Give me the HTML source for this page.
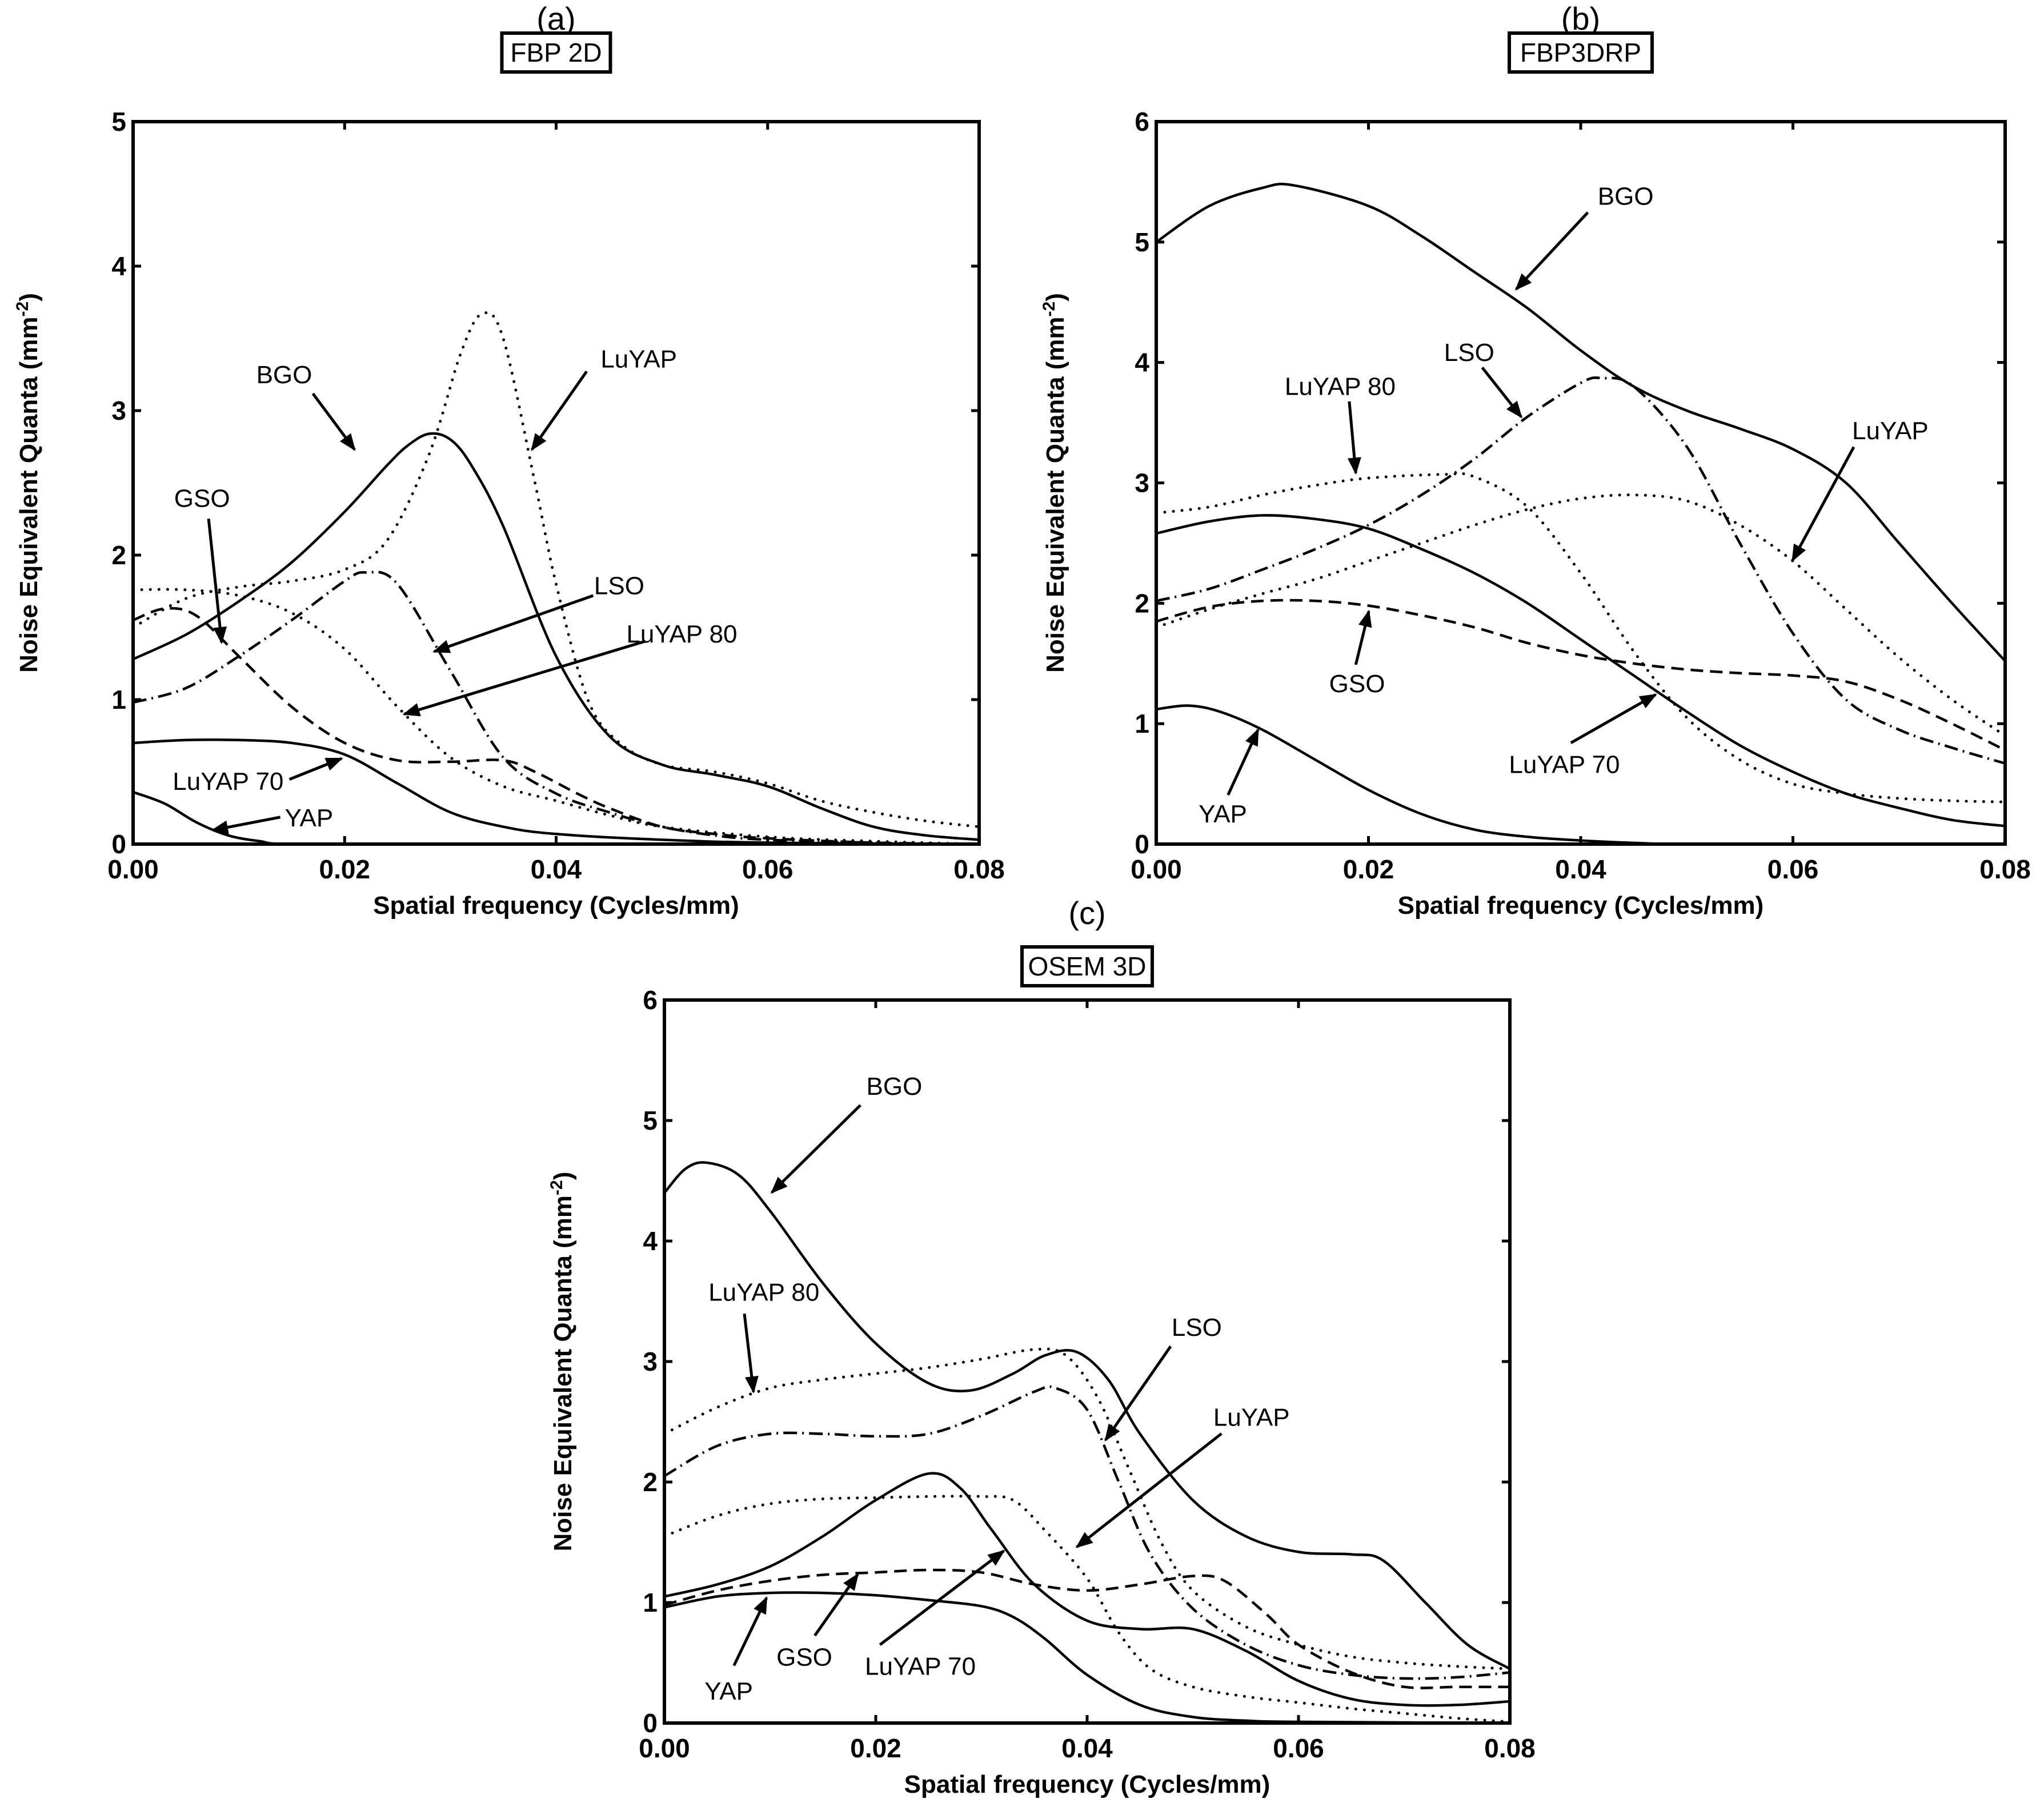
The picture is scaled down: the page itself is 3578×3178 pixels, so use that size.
<!DOCTYPE html>
<html><head><meta charset="utf-8"><style>
html,body{margin:0;padding:0;background:#fff;}
svg{display:block;}
text{font-family:"Liberation Sans",Arial,sans-serif;fill:#000;}
</style></head><body>
<svg id="fig" width="3578" height="3178" viewBox="0 0 3578 3178" xmlns="http://www.w3.org/2000/svg">
<defs>
<marker id="ah" viewBox="0 0 10 10" refX="9" refY="5" markerWidth="7" markerHeight="6" markerUnits="strokeWidth" orient="auto"><path d="M0,1 L10,5 L0,9 z" fill="#000"/></marker>
</defs>
</svg>
<script>
// ---- data (x in cycles/mm, y in mm^-2) ----
const xTicks = [0, 0.02, 0.04, 0.06, 0.08];
const xTickLabels = ["0.00", "0.02", "0.04", "0.06", "0.08"];
const yTicksA = [0, 1, 2, 3, 4, 5];
const yTicksBC = [0, 1, 2, 3, 4, 5, 6];

// Panel (a) FBP 2D
const aBGOx = [0,.005,.01,.015,.02,.024,.026,.028,.030,.032,.035,.04,.045,.05,.055,.06,.065,.07,.075,.08];
const aBGOy = [1.28,1.45,1.68,1.95,2.3,2.62,2.76,2.84,2.8,2.62,2.2,1.3,0.75,0.55,0.48,0.4,0.25,0.12,0.06,0.03];
const aLuYAPx = [0,.005,.01,.015,.02,.024,.028,.031,.033,.035,.038,.04,.043,.046,.05,.055,.06,.065,.07,.075,.08];
const aLuYAPy = [1.5,1.7,1.78,1.82,1.9,2.1,2.7,3.4,3.67,3.5,2.5,1.8,1.0,0.7,0.55,0.5,0.42,0.3,0.22,0.16,0.12];
const aLuYAP80x = [0,.005,.01,.015,.02,.025,.03,.035,.04,.045,.05,.06,.07,.08];
const aLuYAP80y = [1.76,1.76,1.72,1.6,1.35,0.95,0.6,0.4,0.3,0.2,0.12,0.05,0.02,0];
const aLSOx = [0,.005,.01,.015,.02,.022,.025,.03,.035,.04,.045,.05,.055,.06,.07,.08];
const aLSOy = [0.98,1.08,1.3,1.55,1.82,1.88,1.8,1.2,0.6,0.35,0.22,0.12,0.06,0.03,0.01,0];
const aGSOx = [0,.003,.006,.01,.015,.02,.025,.03,.035,.038,.042,.045,.05,.055,.06,.07,.08];
const aGSOy = [1.55,1.63,1.58,1.3,0.95,0.7,0.58,0.57,0.58,0.5,0.35,0.25,0.12,0.07,0.04,0.01,0];
const aLuYAP70x = [0,.005,.01,.015,.02,.025,.03,.035,.04,.05,.06,.08];
const aLuYAP70y = [0.7,0.72,0.72,0.7,0.62,0.42,0.22,0.12,0.07,0.03,0.01,0];
const aYAPx = [0,.003,.006,.009,.012,.015,.03,.08];
const aYAPy = [0.36,0.28,0.15,0.06,0.02,0,0,0];

// Panel (b) FBP3DRP
const bBGOx = [0,.005,.01,.013,.02,.025,.03,.035,.04,.045,.05,.055,.06,.065,.07,.075,.08];
const bBGOy = [5.0,5.3,5.45,5.47,5.3,5.05,4.75,4.45,4.1,3.8,3.6,3.45,3.28,3.0,2.5,2.0,1.52];
const bLSOx = [0,.005,.01,.015,.02,.025,.03,.035,.04,.042,.045,.05,.055,.06,.065,.07,.075,.08];
const bLSOy = [2.02,2.12,2.28,2.45,2.65,2.9,3.2,3.55,3.83,3.87,3.8,3.3,2.5,1.75,1.2,0.95,0.8,0.67];
const bLuYAP80x = [0,.005,.01,.015,.02,.027,.03,.035,.04,.045,.05,.055,.06,.065,.07,.075,.08];
const bLuYAP80y = [2.75,2.8,2.9,2.98,3.04,3.07,3.05,2.8,2.25,1.6,1.05,0.7,0.5,0.42,0.38,0.36,0.35];
const bLuYAPx = [0,.005,.01,.015,.02,.025,.03,.035,.04,.045,.05,.055,.06,.065,.07,.075,.08];
const bLuYAPy = [1.8,1.95,2.08,2.2,2.35,2.5,2.65,2.78,2.87,2.9,2.85,2.65,2.35,1.95,1.55,1.2,0.9];
const bGSOx = [0,.005,.01,.015,.02,.025,.03,.035,.04,.045,.05,.055,.06,.065,.07,.075,.08];
const bGSOy = [1.85,1.97,2.02,2.02,1.98,1.9,1.8,1.67,1.57,1.5,1.45,1.42,1.4,1.35,1.2,1.0,0.78];
const bLuYAP70x = [0,.005,.01,.015,.02,.025,.03,.035,.04,.045,.05,.055,.06,.065,.07,.075,.08];
const bLuYAP70y = [2.58,2.68,2.73,2.7,2.62,2.45,2.25,2.0,1.7,1.4,1.1,0.82,0.6,0.42,0.3,0.2,0.15];
const bYAPx = [0,.003,.006,.01,.015,.02,.025,.03,.035,.04,.045,.05,.065,.08];
const bYAPy = [1.12,1.15,1.1,0.95,0.7,0.45,0.25,0.12,0.06,0.03,0.01,0,0,0];

// Panel (c) OSEM 3D
const cBGOx = [0,.002,.004,.007,.01,.015,.02,.025,.029,.033,.036,.039,.042,.045,.05,.055,.06,.065,.068,.072,.076,.08];
const cBGOy = [4.4,4.6,4.65,4.55,4.25,3.65,3.15,2.82,2.76,2.9,3.05,3.08,2.85,2.4,1.85,1.55,1.42,1.4,1.35,1.0,0.65,0.45];
const cLuYAP80x = [0,.005,.01,.015,.02,.025,.03,.035,.038,.041,.044,.047,.05,.055,.06,.065,.07,.075,.08];
const cLuYAP80y = [2.4,2.62,2.78,2.85,2.9,2.95,3.02,3.1,3.05,2.7,2.1,1.5,1.1,0.8,0.65,0.55,0.5,0.47,0.45];
const cLSOx = [0,.005,.01,.015,.02,.025,.03,.035,.037,.04,.043,.046,.05,.055,.06,.065,.07,.075,.08];
const cLSOy = [2.05,2.3,2.4,2.4,2.38,2.4,2.55,2.75,2.78,2.6,2.0,1.4,0.95,0.65,0.48,0.4,0.37,0.38,0.42];
const cGSOx = [0,.005,.01,.015,.02,.025,.03,.035,.04,.045,.05,.053,.057,.06,.065,.07,.075,.08];
const cGSOy = [0.98,1.1,1.18,1.23,1.25,1.27,1.25,1.15,1.1,1.15,1.22,1.18,0.9,0.65,0.42,0.3,0.3,0.3];
const cLuYAPx = [0,.005,.01,.015,.02,.025,.03,.033,.036,.04,.043,.046,.05,.055,.06,.065,.07,.075,.08];
const cLuYAPy = [1.55,1.72,1.82,1.86,1.87,1.88,1.88,1.85,1.6,1.2,0.75,0.45,0.3,0.22,0.17,0.12,0.08,0.04,0.01];
const cLuYAP70x = [0,.005,.01,.015,.02,.025,.028,.031,.035,.04,.045,.05,.055,.06,.065,.07,.075,.08];
const cLuYAP70y = [1.05,1.15,1.3,1.55,1.85,2.07,1.95,1.6,1.15,0.85,0.78,0.78,0.6,0.35,0.2,0.15,0.15,0.18];
const cYAPx = [0,.005,.01,.015,.02,.025,.03,.033,.036,.04,.045,.05,.055,.06,.08];
const cYAPy = [0.96,1.05,1.08,1.08,1.06,1.02,0.97,0.88,0.7,0.4,0.15,0.05,0.02,0.01,0];

const NS = "http://www.w3.org/2000/svg";
const svg = document.getElementById("fig");
const STYLES = {
  solid: "",
  dotted: "0.1 15",
  dashdot: "24 9 3 9",
  dashed: "22 12"
};

function mk(tag, attrs, parent) {
  const e = document.createElementNS(NS, tag);
  for (const k in attrs) e.setAttribute(k, attrs[k]);
  (parent || svg).appendChild(e);
  return e;
}

function smoothPath(pts) {
  let d = "M" + pts[0][0].toFixed(1) + "," + pts[0][1].toFixed(1);
  for (let i = 0; i < pts.length - 1; i++) {
    const p0 = pts[Math.max(0, i - 1)], p1 = pts[i], p2 = pts[i + 1], p3 = pts[Math.min(pts.length - 1, i + 2)];
    const t = 6;
    const c1 = [p1[0] + (p2[0] - p0[0]) / t, p1[1] + (p2[1] - p0[1]) / t];
    const c2 = [p2[0] - (p3[0] - p1[0]) / t, p2[1] - (p3[1] - p1[1]) / t];
    d += "C" + c1[0].toFixed(1) + "," + c1[1].toFixed(1) + " " + c2[0].toFixed(1) + "," + c2[1].toFixed(1) + " " + p2[0].toFixed(1) + "," + p2[1].toFixed(1);
  }
  return d;
}

function panel(cfg) {
  const g = mk("g", {});
  
  
  const L = cfg.L, R = cfg.R, T = cfg.T, B = cfg.B;
  const xs = v => L + v / 0.08 * (R - L);
  const ys = v => B - v / cfg.ymax * (B - T);
  const cx = (L + R) / 2;

  const lab = mk("text", {x: cx, y: cfg.letterY, "text-anchor": "middle", "font-size": 56}, g);
  lab.textContent = cfg.letter;
  
  

  const tb = mk("rect", {x: cx - cfg.boxW / 2, y: cfg.boxY, width: cfg.boxW, height: 68, fill: "#fff", stroke: "#000", "stroke-width": 6}, g);
  
  
  const tt = mk("text", {x: cx, y: cfg.boxY + 50, "text-anchor": "middle", "font-size": 46}, g);
  tt.textContent = cfg.title;
  
  

  cfg.series.forEach(s => {
    const pts = s.x.map((xv, i) => [xs(xv), ys(s.y[i])]);
    const attrs = {d: smoothPath(pts), fill: "none", stroke: "#000", "stroke-width": s.style === "dotted" ? 5 : 4.5, "stroke-linejoin": "round"};
    if (STYLES[s.style]) { attrs["stroke-dasharray"] = STYLES[s.style]; }
    attrs["stroke-linecap"] = s.style === "dotted" ? "round" : "butt";
    const p = mk("path", attrs, g);
    
    
  });

  const fr = mk("rect", {x: L, y: T, width: R - L, height: B - T, fill: "none", stroke: "#000", "stroke-width": 6}, g);
  
  

  xTicks.forEach((v, i) => {
    const x = xs(v);
    const t1 = mk("line", {x1: x, y1: B, x2: x, y2: B - 14, stroke: "#000", "stroke-width": 5}, g);
    
    
    const t2 = mk("line", {x1: x, y1: T, x2: x, y2: T + 14, stroke: "#000", "stroke-width": 5}, g);
    
    
    const tl = mk("text", {x: x, y: B + 60, "text-anchor": "middle", "font-size": 46, "font-weight": "bold"}, g);
    tl.textContent = xTickLabels[i];
    
    
  });
  cfg.yticks.forEach(v => {
    const y = ys(v);
    const t1 = mk("line", {x1: L, y1: y, x2: L + 14, y2: y, stroke: "#000", "stroke-width": 5}, g);
    
    
    const t2 = mk("line", {x1: R, y1: y, x2: R - 14, y2: y, stroke: "#000", "stroke-width": 5}, g);
    
    
    const tl = mk("text", {x: L - 12, y: y + 16, "text-anchor": "end", "font-size": 46, "font-weight": "bold"}, g);
    tl.textContent = String(v);
    
    
  });

  const xt = mk("text", {x: cx, y: B + 122, "text-anchor": "middle", "font-size": 44, "font-weight": "bold"}, g);
  xt.textContent = "Spatial frequency (Cycles/mm)";
  
  
  const yc = (T + B) / 2;
  const yt = mk("text", {x: cfg.yTitleX, y: yc, "text-anchor": "middle", "font-size": 44, "font-weight": "bold", transform: "rotate(-90 " + cfg.yTitleX + " " + yc + ")"}, g);
  yt.innerHTML = 'Noise Equivalent Quanta (mm<tspan dy="-16" font-size="30">-2</tspan><tspan dy="16">)</tspan>';
  
  

  const k = 2.282;
  cfg.ann.forEach(a => {
    const t = mk("text", {x: a[1] * k, y: a[2] * k + 16, "text-anchor": "middle", "font-size": 44}, g);
    t.textContent = a[0];
    
    
    const ln = mk("line", {x1: a[3] * k, y1: a[4] * k, x2: a[5] * k, y2: a[6] * k, stroke: "#000", "stroke-width": 5, "marker-end": "url(#ah)"}, g);
    
    
  });
}

panel({
  name: "panel-a-fbp2d", letter: "(a)", title: "FBP 2D", letterY: 52, boxY: 58, boxW: 190,
  L: 233, R: 1714, T: 213, B: 1478, ymax: 5, yticks: yTicksA, yTitleX: 65,
  series: [
    {id: "series-bgo", x: aBGOx, y: aBGOy, style: "solid"},
    {id: "series-luyap", x: aLuYAPx, y: aLuYAPy, style: "dotted"},
    {id: "series-luyap80", x: aLuYAP80x, y: aLuYAP80y, style: "dotted"},
    {id: "series-lso", x: aLSOx, y: aLSOy, style: "dashdot"},
    {id: "series-gso", x: aGSOx, y: aGSOy, style: "dashed"},
    {id: "series-luyap70", x: aLuYAP70x, y: aLuYAP70y, style: "solid"},
    {id: "series-yap", x: aYAPx, y: aYAPy, style: "solid"}
  ],
  ann: [
    ["BGO", 218, 287, 240, 302, 272, 345],
    ["LuYAP", 490, 275, 450, 285, 408, 345],
    ["GSO", 155, 382, 160, 398, 170, 493],
    ["LSO", 475, 449, 455, 457, 333, 500],
    ["LuYAP 80", 523, 486, 495, 492, 310, 548],
    ["LuYAP 70", 175, 599, 222, 598, 262, 582],
    ["YAP", 237, 627, 215, 627, 163, 637]
  ]
});
panel({
  name: "panel-b-fbp3drp", letter: "(b)", title: "FBP3DRP", letterY: 52, boxY: 58, boxW: 250,
  L: 2024, R: 3510, T: 213, B: 1478, ymax: 6, yticks: yTicksBC, yTitleX: 1862,
  series: [
    {id: "series-bgo", x: bBGOx, y: bBGOy, style: "solid"},
    {id: "series-lso", x: bLSOx, y: bLSOy, style: "dashdot"},
    {id: "series-luyap80", x: bLuYAP80x, y: bLuYAP80y, style: "dotted"},
    {id: "series-luyap", x: bLuYAPx, y: bLuYAPy, style: "dotted"},
    {id: "series-gso", x: bGSOx, y: bGSOy, style: "dashed"},
    {id: "series-luyap70", x: bLuYAP70x, y: bLuYAP70y, style: "solid"},
    {id: "series-yap", x: bYAPx, y: bYAPy, style: "solid"}
  ],
  ann: [
    ["BGO", 1247, 150, 1218, 163, 1163, 222],
    ["LSO", 1127, 270, 1137, 282, 1167, 320],
    ["LuYAP 80", 1028, 296, 1035, 308, 1040, 363],
    ["LuYAP", 1450, 330, 1422, 343, 1375, 430],
    ["GSO", 1041, 524, 1040, 510, 1050, 469],
    ["LuYAP 70", 1200, 586, 1205, 570, 1270, 533],
    ["YAP", 938, 624, 942, 610, 965, 560]
  ]
});
panel({
  name: "panel-c-osem3d", letter: "(c)", title: "OSEM 3D", letterY: 1618, boxY: 1658, boxW: 228,
  L: 1163, R: 2643, T: 1751, B: 3017, ymax: 6, yticks: yTicksBC, yTitleX: 1000,
  series: [
    {id: "series-bgo", x: cBGOx, y: cBGOy, style: "solid"},
    {id: "series-luyap80", x: cLuYAP80x, y: cLuYAP80y, style: "dotted"},
    {id: "series-lso", x: cLSOx, y: cLSOy, style: "dashdot"},
    {id: "series-gso", x: cGSOx, y: cGSOy, style: "dashed"},
    {id: "series-luyap", x: cLuYAPx, y: cLuYAPy, style: "dotted"},
    {id: "series-luyap70", x: cLuYAP70x, y: cLuYAP70y, style: "solid"},
    {id: "series-yap", x: cYAPx, y: cYAPy, style: "solid"}
  ],
  ann: [
    ["BGO", 686, 833, 660, 848, 592, 915],
    ["LuYAP 80", 586, 991, 571, 1008, 578, 1068],
    ["LSO", 918, 1018, 898, 1033, 848, 1105],
    ["LuYAP", 960, 1087, 937, 1100, 826, 1187],
    ["LuYAP 70", 706, 1278, 675, 1262, 770, 1190],
    ["GSO", 617, 1271, 625, 1255, 658, 1208],
    ["YAP", 559, 1297, 563, 1278, 588, 1226]
  ]
});
</script>
</body></html>
